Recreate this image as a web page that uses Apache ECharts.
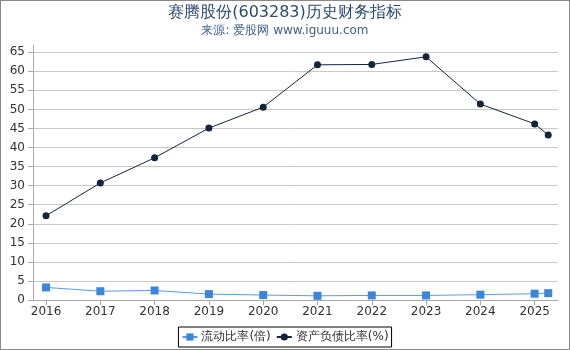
<!DOCTYPE html>
<html><head><meta charset="utf-8">
<script src="https://cdn.jsdelivr.net/npm/echarts@6/dist/echarts.min.js"></script>
<style>html,body{margin:0;padding:0;background:#fff}#c{width:570px;height:350px}#f{position:absolute;left:0;top:0;width:570px;height:350px;box-sizing:border-box;border:1px solid #888;pointer-events:none}</style>
</head><body><div id="c"></div><div id="f"></div>
<script>
const periods = [2016, 2017, 2018, 2019, 2020, 2021, 2022, 2023, 2024, 2025, 2025.25];
const currentRatio = [3.3, 2.3, 2.5, 1.55, 1.3, 1.1, 1.2, 1.2, 1.4, 1.65, 1.8];
const debtRatio = [22.1, 30.7, 37.3, 45.1, 50.6, 61.7, 61.8, 63.8, 51.4, 46.2, 43.3];
const xTicks = [2016, 2017, 2018, 2019, 2020, 2021, 2022, 2023, 2024, 2025];
const yTicks = [0, 5, 10, 15, 20, 25, 30, 35, 40, 45, 50, 55, 60, 65];

const chart = echarts.init(document.getElementById('c'));
const font = 'DejaVu Sans';
chart.setOption({
  animation: false,
  title: {
    text: '赛腾股份(603283)历史财务指标',
    subtext: '来源: 爱股网 www.iguuu.com',
    left: 'center', top: 0, itemGap: 4,
    textStyle: {fontFamily: font, fontSize: 16, fontWeight: 'normal', color: '#2b4a6f'},
    subtextStyle: {fontFamily: font, fontSize: 12, color: '#3d5f8a'}
  },
  legend: {
    bottom: 3, left: 'center',
    borderColor: '#000', borderWidth: 1, padding: [4, 3], borderRadius: 0,
    itemWidth: 15, itemHeight: 9, itemGap: 5,
    textStyle: {fontFamily: font, fontSize: 12, color: '#333', padding: [0, 0, 0, -1]},
    data: ['流动比率(倍)', '资产负债比率(%)']
  },
  grid: {left: 33, right: 12, top: 45, bottom: 50},
  xAxis: {
    type: 'value', min: 2015.76, max: 2025.43,
    axisLine: {lineStyle: {color: '#aaa'}},
    axisTick: {customValues: xTicks, lineStyle: {color: '#aaa'}},
    axisLabel: {customValues: xTicks, formatter: v => String(v), fontFamily: font, fontSize: 12, color: '#333', margin: 6},
    splitLine: {show: false}
  },
  yAxis: {
    type: 'value', min: 0, max: 66.9,
    axisLine: {show: true, lineStyle: {color: '#aaa'}},
    axisTick: {show: true, customValues: yTicks, lineStyle: {color: '#aaa'}},
    axisLabel: {customValues: yTicks, fontFamily: font, fontSize: 12, color: '#333', margin: 8},
    splitLine: {show: true, customValues: yTicks, lineStyle: {color: '#c8c8c8'}}
  },
  series: [
    {
      name: '流动比率(倍)', type: 'line',
      data: periods.map((p, i) => [p, currentRatio[i]]),
      symbol: 'rect', symbolSize: 8,
      itemStyle: {color: '#3a86d8'},
      lineStyle: {color: '#5c9be0', width: 1}
    },
    {
      name: '资产负债比率(%)', type: 'line',
      data: periods.map((p, i) => [p, debtRatio[i]]),
      symbol: 'circle', symbolSize: 7,
      itemStyle: {color: '#14243d'},
      lineStyle: {color: '#14243d', width: 1}
    }
  ]
});
</script></body></html>
